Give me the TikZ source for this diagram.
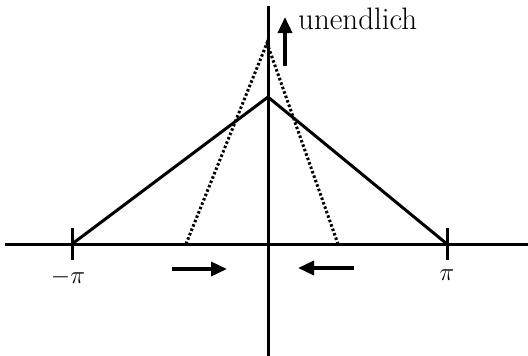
\documentclass[tikz,border=0pt]{standalone}
\usetikzlibrary{arrows.meta}
\begin{document}
\begin{tikzpicture}[x=1pt,y=-1pt,
  axis/.style={line width=3pt},
  solidline/.style={line width=3pt,line join=miter},
  dotline/.style={line width=3pt,dash pattern=on 2.5pt off 2.2pt},
  bigarrow/.style={line width=3.5pt,-{Triangle[length=16pt,width=14pt]}},
  lbl/.style={inner sep=0pt}]
\useasboundingbox (0,0) rectangle (528,356);
% axis coordinates
\coordinate (xl) at (5,244);
\coordinate (xr) at (528,244);
\coordinate (yt) at (268,6);
\coordinate (yb) at (268,356);
\draw[axis] (xl) -- (xr);
\draw[axis] (yt) -- (yb);
% ticks
\coordinate (tl1) at (72,228);
\coordinate (tl2) at (72,260);
\coordinate (tr1) at (447,228);
\coordinate (tr2) at (447,260);
\draw[axis] (tl1) -- (tl2);
\draw[axis] (tr1) -- (tr2);
% solid triangle
\coordinate (sa) at (72,244);
\coordinate (sb) at (268,97);
\coordinate (sc) at (447,244);
\draw[solidline] (sa) -- (sb) -- (sc);
% dotted triangle
\coordinate (da) at (186,244);
\coordinate (db) at (267,43);
\coordinate (dc) at (338,244);
\draw[dotline] (da) -- (db) -- (dc);
% up arrow and label
\coordinate (ua) at (285,66);
\coordinate (ub) at (285,17);
\draw[bigarrow] (ua) -- (ub);
\node[lbl,anchor=base west,font=\fontsize{31}{34}\selectfont] (unendl) at (298,30) {unendlich};
% horizontal arrows
\coordinate (ra) at (172,269);
\coordinate (rb) at (227,269);
\draw[bigarrow] (ra) -- (rb);
\coordinate (la) at (354,268);
\coordinate (lb) at (298,268);
\draw[bigarrow] (la) -- (lb);
% labels
\node[lbl,font=\fontsize{25}{27}\selectfont] (mpi) at (68,277) {$-\pi$};
\node[lbl,font=\fontsize{25}{27}\selectfont] (ppi) at (447,275) {$\pi$};
\end{tikzpicture}
\end{document}
